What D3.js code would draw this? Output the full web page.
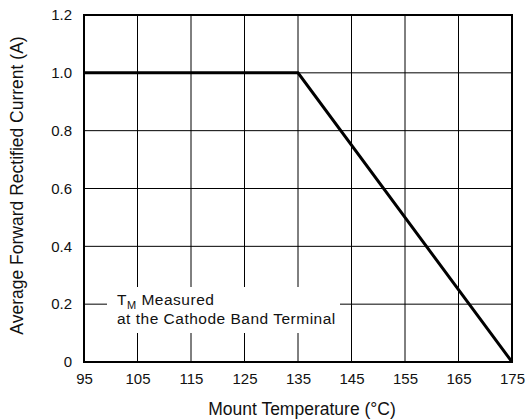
<!DOCTYPE html>
<html>
<head>
<meta charset="utf-8">
<script src="https://cdn.jsdelivr.net/npm/d3@7"></script>
<style>
  body { margin: 0; background: #fff; }
  svg { display: block; font-family: "Liberation Sans", Arial, sans-serif; }
</style>
</head>
<body>
<div id="chart"></div>
<script>
// derating curve data
var tempC = [95, 135, 175];
var currentA = [1.0, 1.0, 0];
var xTicks = [95, 105, 115, 125, 135, 145, 155, 165, 175];
var yTicks = [0, 0.2, 0.4, 0.6, 0.8, 1.0, 1.2];
var yTickLabels = ["0", "0.2", "0.4", "0.6", "0.8", "1.0", "1.2"];

var W = 527, H = 419;
var margin = { left: 84, right: 15, top: 15, bottom: 57 };
var w = W - margin.left - margin.right;
var h = H - margin.top - margin.bottom;

var svg = d3.select("#chart").append("svg")
    .attr("width", W)
    .attr("height", H);

var g = svg.append("g")
    .attr("transform", "translate(" + margin.left + "," + margin.top + ")");

var x = d3.scaleLinear().domain([95, 175]).range([0, w]);
var y = d3.scaleLinear().domain([0, 1.2]).range([h, 0]);

// grid
g.selectAll(".vgrid").data(xTicks).enter().append("line")
    .attr("x1", d => x(d)).attr("x2", d => x(d))
    .attr("y1", 0).attr("y2", h)
    .attr("stroke", "#000").attr("stroke-width", 1);

g.selectAll(".hgrid").data(yTicks).enter().append("line")
    .attr("x1", 0).attr("x2", w)
    .attr("y1", d => y(d)).attr("y2", d => y(d))
    .attr("stroke", "#000").attr("stroke-width", 1);

// note box blanks out the grid behind it
g.append("rect")
    .attr("x", 23).attr("y", 272)
    .attr("width", 233).attr("height", 46)
    .attr("fill", "#fff");

var note = g.append("text")
    .attr("x", 33).attr("y", 290)
    .attr("font-size", "15.5px").attr("letter-spacing", "0.5px").attr("fill", "#111");
note.append("tspan").text("T");
note.append("tspan").attr("font-size", "11px").attr("dy", 4).text("M");
note.append("tspan").attr("dy", -4).text(" Measured");
g.append("text")
    .attr("x", 33).attr("y", 309)
    .attr("font-size", "15.5px").attr("letter-spacing", "0.5px").attr("fill", "#111")
    .text("at the Cathode Band Terminal");

// frame
g.append("rect")
    .attr("x", 0).attr("y", 0).attr("width", w).attr("height", h)
    .attr("fill", "none").attr("stroke", "#000").attr("stroke-width", 2);

// curve
var line = d3.line().x((d, i) => x(tempC[i])).y(d => y(d));
g.append("path")
    .datum(currentA)
    .attr("d", line)
    .attr("fill", "none")
    .attr("stroke", "#000")
    .attr("stroke-width", 3)
    .attr("stroke-linejoin", "miter");

// axes
var xAxis = d3.axisBottom(x).tickValues(xTicks).tickSize(0).tickPadding(11)
    .tickFormat(d3.format("d"));
var gx = g.append("g").attr("transform", "translate(0," + h + ")").call(xAxis);
gx.select(".domain").remove();
gx.selectAll("text").attr("font-size", "15px").attr("fill", "#111")
    .attr("font-family", "Liberation Sans, Arial, sans-serif");

var yAxis = d3.axisLeft(y).tickValues(yTicks).tickSize(0).tickPadding(12)
    .tickFormat((d, i) => yTickLabels[i]);
var gy = g.append("g").call(yAxis);
gy.select(".domain").remove();
gy.selectAll("text").attr("font-size", "15px").attr("fill", "#111")
    .attr("font-family", "Liberation Sans, Arial, sans-serif");

// axis titles
svg.append("text")
    .attr("x", margin.left + w / 2 + 4).attr("y", 415)
    .attr("text-anchor", "middle")
    .attr("font-size", "17.5px").attr("fill", "#111")
    .text("Mount Temperature (°C)");

svg.append("text")
    .attr("transform", "translate(23," + (margin.top + h / 2 - 3) + ") rotate(-90)")
    .attr("text-anchor", "middle")
    .attr("font-size", "17.5px").attr("fill", "#111")
    .text("Average Forward Rectified Current (A)");
</script>
</body>
</html>
